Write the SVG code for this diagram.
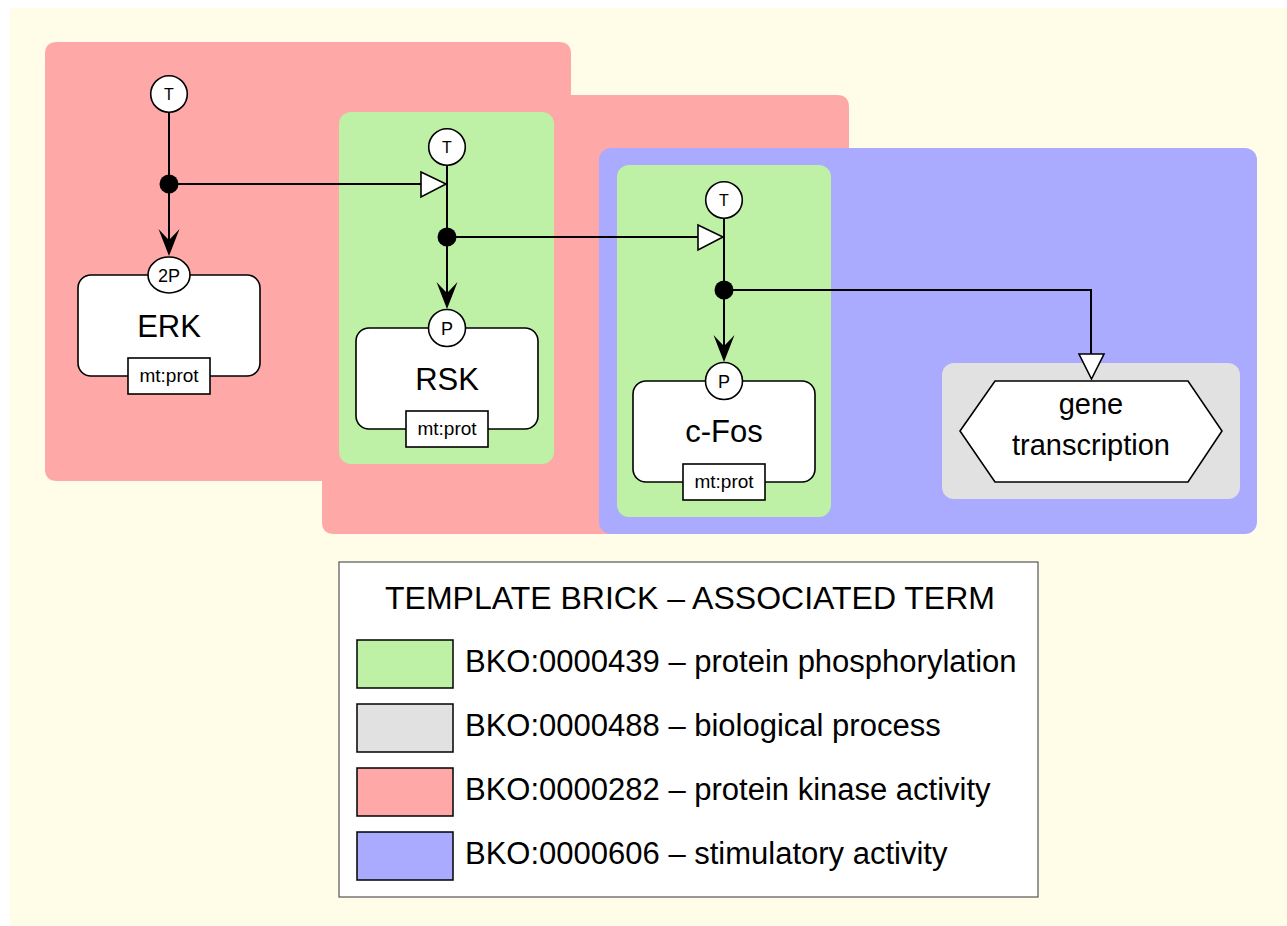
<svg xmlns="http://www.w3.org/2000/svg" width="1287" height="926" viewBox="0 0 1287 926">
<defs>
<style>
text{font-family:"Liberation Sans",Arial,sans-serif;fill:#000}
.red{fill:#FFA8A8}.green{fill:#BEF0A5}.blue{fill:#AAAAFF}.gray{fill:#E1E1E1}
.node{fill:#fff;stroke:#000;stroke-width:1.6}
.edge{fill:none;stroke:#000;stroke-width:2}
.big{font-size:31px;text-anchor:middle}
.sm{font-size:18px;text-anchor:middle}
.mt{font-size:19px;text-anchor:middle}
.st{font-size:16px;text-anchor:middle}
.leg{font-size:31px}
.sw{stroke:#000;stroke-width:1.5}
.hollow{fill:#fff;stroke:#000;stroke-width:1.6;stroke-linejoin:miter}
</style>
<path id="stealth" d="M0,0 L-10.5,-27 Q-4,-20 0,-16 Q4,-20 10.5,-27 Z"/>
</defs>
<rect x="10" y="8" width="1277" height="918" fill="#FFFDE8"/>
<g id="bricks">
<path class="red" d="M57,42 H559 Q571,42 571,54 V95 H837 Q849,95 849,107 V522 Q849,534 837,534 H334 Q322,534 322,522 V481 H57 Q45,481 45,469 V54 Q45,42 57,42Z"/>
<rect class="green" x="339" y="112" width="215" height="352" rx="12"/>
<rect class="blue" x="599" y="148" width="658" height="386" rx="12"/>
<rect class="green" x="617" y="165" width="214" height="352" rx="12"/>
<rect class="gray" x="942" y="363" width="298" height="136" rx="12"/>
</g>
<g id="connectors">
<path class="edge" d="M169,112 V240"/>
<path class="edge" d="M169,184 H422"/>
<path class="edge" d="M447,165 V294"/>
<path class="edge" d="M447,237 H699"/>
<path class="edge" d="M724,218 V348"/>
<path class="edge" d="M724,290 H1091 V355"/>
<circle cx="169" cy="184" r="9.5"/>
<circle cx="447" cy="237" r="9.5"/>
<circle cx="724" cy="290" r="9.5"/>
<use href="#stealth" transform="translate(169,256)"/>
<use href="#stealth" transform="translate(447,309)"/>
<use href="#stealth" transform="translate(724,362)"/>
<path class="hollow" d="M421,172 L446,184 L421,197Z"/>
<path class="hollow" d="M698,225 L723,237 L698,250Z"/>
<path class="hollow" d="M1079,354 L1104,354 L1091.5,379Z"/>
</g>
<g id="node-erk-t"><circle class="node" cx="169" cy="94" r="18.3"/><text class="st" x="169" y="100">T</text></g>
<g id="node-erk">
<rect class="node" x="78" y="275" width="182" height="101" rx="13"/>
<text class="big" x="169" y="337">ERK</text>
<ellipse class="node" cx="169" cy="275" rx="21" ry="18"/><text class="sm" x="169" y="281.5">2P</text>
<rect class="node" x="128" y="358" width="82" height="36"/><text class="mt" x="169" y="382">mt:prot</text>
</g>
<g id="node-rsk-t"><circle class="node" cx="447" cy="147" r="18.3"/><text class="st" x="447" y="153">T</text></g>
<g id="node-rsk">
<rect class="node" x="356" y="328" width="182" height="101" rx="13"/>
<text class="big" x="447" y="390">RSK</text>
<circle class="node" cx="447" cy="328" r="18.5"/><text class="sm" x="447" y="334.5">P</text>
<rect class="node" x="406" y="411" width="82" height="36"/><text class="mt" x="447" y="435">mt:prot</text>
</g>
<g id="node-cfos-t"><circle class="node" cx="724" cy="200" r="18.3"/><text class="st" x="724" y="206">T</text></g>
<g id="node-cfos">
<rect class="node" x="633" y="381" width="182" height="101" rx="13"/>
<text class="big" x="724" y="442">c-Fos</text>
<circle class="node" cx="724" cy="381" r="18.5"/><text class="sm" x="724" y="387.5">P</text>
<rect class="node" x="683" y="464" width="82" height="36"/><text class="mt" x="724" y="488">mt:prot</text>
</g>
<g id="node-gene">
<path class="node" d="M960,431 L995,381 H1188 L1222,431 L1188,482 H995Z"/>
<text class="big" x="1091" y="414" style="font-size:29px">gene</text>
<text class="big" x="1091" y="455" style="font-size:29px">transcription</text>
</g>
<g id="legend">
<rect x="339" y="562" width="699" height="335" fill="#fff" stroke="#555" stroke-width="1.2"/>
<text x="690" y="609" style="font-size:32px;text-anchor:middle">TEMPLATE BRICK – ASSOCIATED TERM</text>
<rect class="green sw" x="357" y="640" width="96" height="48"/>
<text class="leg" x="465" y="672">BKO:0000439 – protein phosphorylation</text>
<rect class="gray sw" x="357" y="704" width="96" height="48"/>
<text class="leg" x="465" y="736">BKO:0000488 – biological process</text>
<rect class="red sw" x="357" y="768" width="96" height="48"/>
<text class="leg" x="465" y="800">BKO:0000282 – protein kinase activity</text>
<rect class="blue sw" x="357" y="832" width="96" height="48"/>
<text class="leg" x="465" y="864">BKO:0000606 – stimulatory activity</text>
</g>
</svg>
